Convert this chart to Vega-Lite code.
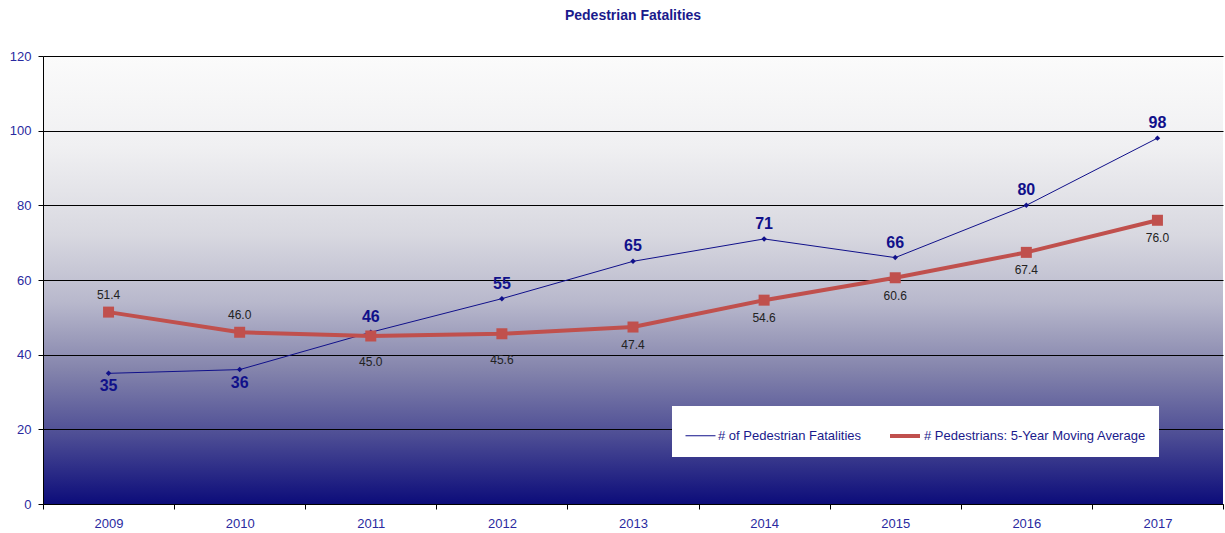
{
  "$schema": "https://vega.github.io/schema/vega-lite/v6.json",
  "width": 1180,
  "height": 448,
  "padding": {"left": 9, "top": 9, "right": 3, "bottom": 5},
  "title": {"text": "Pedestrian Fatalities", "font": "Liberation Sans", "fontSize": 14, "fontWeight": "bold", "color": "#1a1a8c", "offset": 27},
  "config": {
    "font": "Liberation Sans",
    "view": {"stroke": null, "fill": {"gradient": "linear", "x1": 0, "y1": 0, "x2": 0, "y2": 1, "stops": [
      {"offset": 0, "color": "#fbfbfb"},
      {"offset": 0.2, "color": "#f0f0f2"},
      {"offset": 0.4, "color": "#d8d8e0"},
      {"offset": 0.55, "color": "#b8b8cc"},
      {"offset": 0.7, "color": "#8484ac"},
      {"offset": 0.85, "color": "#4c4c94"},
      {"offset": 1, "color": "#0c0c7a"}
    ]}}
  },
  "data": {"values": [
    {"year": "2009", "series": "# of Pedestrian Fatalities", "value": 35},
    {"year": "2010", "series": "# of Pedestrian Fatalities", "value": 36},
    {"year": "2011", "series": "# of Pedestrian Fatalities", "value": 46},
    {"year": "2012", "series": "# of Pedestrian Fatalities", "value": 55},
    {"year": "2013", "series": "# of Pedestrian Fatalities", "value": 65},
    {"year": "2014", "series": "# of Pedestrian Fatalities", "value": 71},
    {"year": "2015", "series": "# of Pedestrian Fatalities", "value": 66},
    {"year": "2016", "series": "# of Pedestrian Fatalities", "value": 80},
    {"year": "2017", "series": "# of Pedestrian Fatalities", "value": 98},
    {"year": "2009", "series": "# Pedestrians: 5-Year Moving Average", "value": 51.4},
    {"year": "2010", "series": "# Pedestrians: 5-Year Moving Average", "value": 46.0},
    {"year": "2011", "series": "# Pedestrians: 5-Year Moving Average", "value": 45.0},
    {"year": "2012", "series": "# Pedestrians: 5-Year Moving Average", "value": 45.6},
    {"year": "2013", "series": "# Pedestrians: 5-Year Moving Average", "value": 47.4},
    {"year": "2014", "series": "# Pedestrians: 5-Year Moving Average", "value": 54.6},
    {"year": "2015", "series": "# Pedestrians: 5-Year Moving Average", "value": 60.6},
    {"year": "2016", "series": "# Pedestrians: 5-Year Moving Average", "value": 67.4},
    {"year": "2017", "series": "# Pedestrians: 5-Year Moving Average", "value": 76.0}
  ]},
  "encoding": {
    "x": {"field": "year", "type": "ordinal", "scale": {"paddingInner": 0, "paddingOuter": 0},
      "axis": {"title": null, "labelAngle": 0, "labelFontSize": 13, "labelColor": "#2a2aa0", "labelPadding": 8, "tickBand": "extent", "tickColor": "#000000", "tickSize": 5, "domainColor": "#000000", "grid": false}},
    "y": {"field": "value", "type": "quantitative", "scale": {"domain": [0, 120], "nice": false},
      "axis": {"title": null, "values": [0, 20, 40, 60, 80, 100, 120], "labelFontSize": 13, "labelColor": "#2a2aa0", "labelPadding": 7, "tickColor": "#000000", "tickSize": 5, "domainColor": "#000000", "grid": true, "gridColor": "#000000", "gridOpacity": 1, "gridWidth": 1}}
  },
  "layer": [
    {
      "mark": {"type": "line"},
      "encoding": {
        "color": {"field": "series", "type": "nominal",
          "scale": {"domain": ["# of Pedestrian Fatalities", "# Pedestrians: 5-Year Moving Average"], "range": ["#10108a", "#c0504d"]},
          "legend": {"title": null, "orient": "none", "legendX": 629, "legendY": 350, "direction": "horizontal", "fillColor": "#ffffff", "padding": 13, "symbolType": "stroke", "symbolSize": 900, "labelFontSize": 13, "labelColor": "#1a1a8c", "columnPadding": 20, "labelOffset": 2, "labelLimit": 400}},
        "strokeWidth": {"field": "series", "type": "nominal",
          "scale": {"domain": ["# of Pedestrian Fatalities", "# Pedestrians: 5-Year Moving Average"], "range": [1, 4]},
          "legend": {"title": null, "orient": "none", "legendX": 629, "legendY": 350, "direction": "horizontal", "fillColor": "#ffffff", "padding": 13, "symbolType": "stroke", "symbolSize": 900, "labelFontSize": 13, "labelColor": "#1a1a8c", "columnPadding": 20, "labelOffset": 2, "labelLimit": 400}}
      }
    },
    {
      "transform": [{"filter": "datum.series === '# of Pedestrian Fatalities'"}],
      "mark": {"type": "point", "shape": "diamond", "filled": true, "color": "#10108a", "size": 30, "opacity": 1}
    },
    {
      "transform": [{"filter": "datum.series !== '# of Pedestrian Fatalities'"}],
      "mark": {"type": "square", "color": "#c0504d", "size": 121, "opacity": 1}
    },
    {
      "transform": [{"filter": "datum.series === '# of Pedestrian Fatalities' && datum.year >= '2011'"}],
      "mark": {"type": "text", "baseline": "bottom", "dy": -7, "fontSize": 16, "fontWeight": "bold", "color": "#10108a"},
      "encoding": {"text": {"field": "value", "type": "quantitative", "format": "d"}}
    },
    {
      "transform": [{"filter": "datum.series === '# of Pedestrian Fatalities' && datum.year < '2011'"}],
      "mark": {"type": "text", "baseline": "top", "dy": 5, "fontSize": 16, "fontWeight": "bold", "color": "#10108a"},
      "encoding": {"text": {"field": "value", "type": "quantitative", "format": "d"}}
    },
    {
      "transform": [{"filter": "datum.series !== '# of Pedestrian Fatalities' && datum.year < '2011'"}],
      "mark": {"type": "text", "baseline": "bottom", "dy": -10, "fontSize": 12, "color": "#222222"},
      "encoding": {"text": {"field": "value", "type": "quantitative", "format": ".1f"}}
    },
    {
      "transform": [{"filter": "datum.series !== '# of Pedestrian Fatalities' && (datum.year === '2011' || datum.year === '2012')"}],
      "mark": {"type": "text", "baseline": "top", "dy": 21, "fontSize": 12, "color": "#222222"},
      "encoding": {"text": {"field": "value", "type": "quantitative", "format": ".1f"}}
    },
    {
      "transform": [{"filter": "datum.series !== '# of Pedestrian Fatalities' && datum.year >= '2013'"}],
      "mark": {"type": "text", "baseline": "top", "dy": 13, "fontSize": 12, "color": "#222222"},
      "encoding": {"text": {"field": "value", "type": "quantitative", "format": ".1f"}}
    }
  ]
}
